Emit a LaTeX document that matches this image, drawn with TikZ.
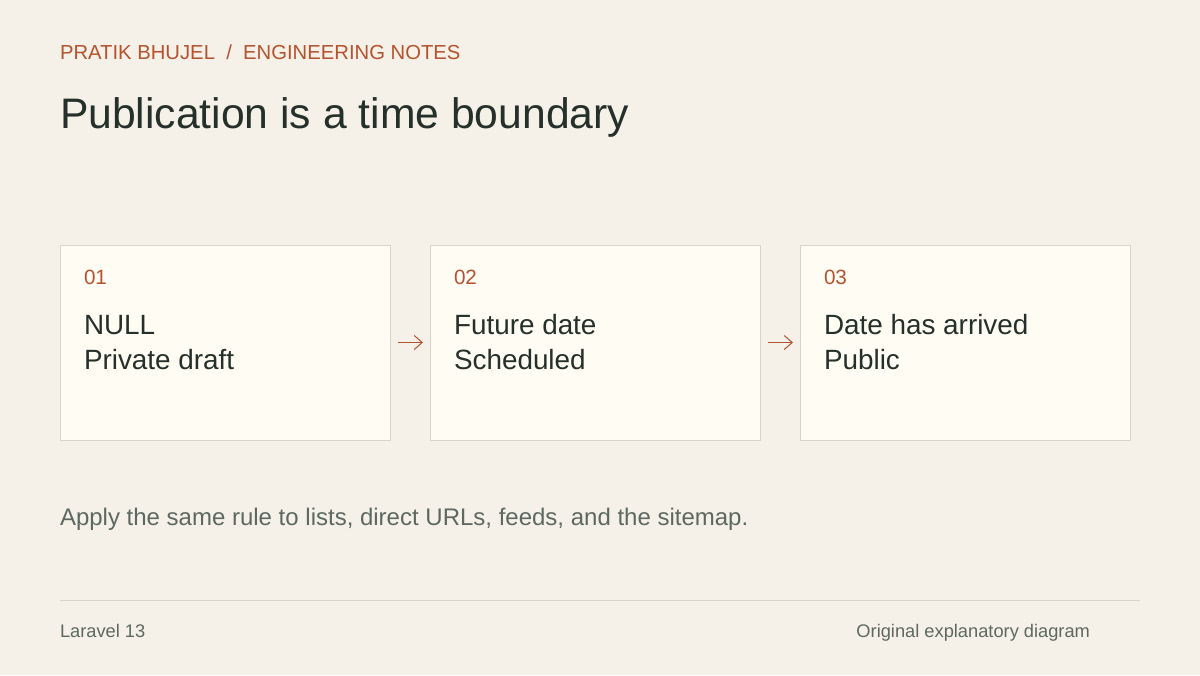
\documentclass[tikz,border=0pt]{standalone}
\usepackage{fontspec}
\setmainfont{Liberation Sans}
\usetikzlibrary{positioning,arrows.meta}
\definecolor{papel}{HTML}{F5F1E8}
\definecolor{tarjeta}{HTML}{FFFCF4}
\definecolor{borde}{HTML}{D8D5C8}
\definecolor{acento}{HTML}{B4532F}
\definecolor{tinta}{HTML}{243029}
\definecolor{gris}{HTML}{5D6960}
\tikzset{
  card/.style={draw=borde,fill=tarjeta,line width=0.75pt,minimum width=247.5pt,minimum height=146.25pt,inner sep=0pt},
  numtxt/.style={anchor=base west,text=acento,font=\fontsize{15.5}{18}\selectfont},
  bodytxt/.style={anchor=base west,text=tinta,font=\fontsize{20.9}{24}\selectfont},
  flow/.style={draw=acento,line width=0.75pt,-{Straight Barb[length=6pt,width=10.5pt]},shorten <=6pt,shorten >=5.25pt}
}
\begin{document}
\begin{tikzpicture}[x=0.75pt,y=-0.75pt,every node/.style={inner sep=0pt,outer sep=0pt}]
  % fondo
  \fill[papel] (0,0) rectangle (1200,675);
  \useasboundingbox (0,0) rectangle (1200,675);

  % cabecera
  \node[anchor=base west,text=acento,font=\fontsize{15.2}{18}\selectfont] (kicker) at (60,59) {PRATIK BHUJEL \;/\; ENGINEERING NOTES};
  \node[anchor=base west,text=tinta,font=\fontsize{32}{36}\selectfont] (title) at (60,128) {Publication is a time boundary};

  % tarjetas
  \node[card,anchor=north west] (b1) at (60,245) {};
  \node[card,right=30pt of b1] (b2) {};
  \node[card,right=30pt of b2] (b3) {};

  \node[numtxt] (n1) at ([xshift=18pt,yshift=-29.25pt]b1.north west) {01};
  \node[numtxt] (n2) at ([xshift=18pt,yshift=-29.25pt]b2.north west) {02};
  \node[numtxt] (n3) at ([xshift=18pt,yshift=-29.25pt]b3.north west) {03};

  \node[bodytxt] (s1) at ([xshift=18pt,yshift=-66.75pt]b1.north west) {NULL};
  \node[bodytxt] (t1) at ([yshift=-26.25pt]s1.base west) {Private draft};
  \node[bodytxt] (s2) at ([xshift=18pt,yshift=-66.75pt]b2.north west) {Future date};
  \node[bodytxt] (t2) at ([yshift=-26.25pt]s2.base west) {Scheduled};
  \node[bodytxt] (s3) at ([xshift=18pt,yshift=-66.75pt]b3.north west) {Date has arrived};
  \node[bodytxt] (t3) at ([yshift=-26.25pt]s3.base west) {Public};

  \draw[flow] (b1.east) -- (b2.west);
  \draw[flow] (b2.east) -- (b3.west);

  % nota
  \node[anchor=base west,text=gris,font=\fontsize{18}{22}\selectfont] (note) at (60,525) {Apply the same rule to lists, direct URLs, feeds, and the sitemap.};

  % pie
  \coordinate (ruleL) at (60,600);
  \coordinate (ruleR) at (1140,600);
  \draw[borde,line width=0.75pt] (ruleL) -- (ruleR);
  \node[anchor=base west,text=gris,font=\fontsize{13.7}{16}\selectfont] (foot1) at (60,637) {Laravel 13};
  \node[anchor=base east,text=gris,font=\fontsize{13.7}{16}\selectfont] (foot2) at (1090,637) {Original explanatory diagram};
\end{tikzpicture}
\end{document}
